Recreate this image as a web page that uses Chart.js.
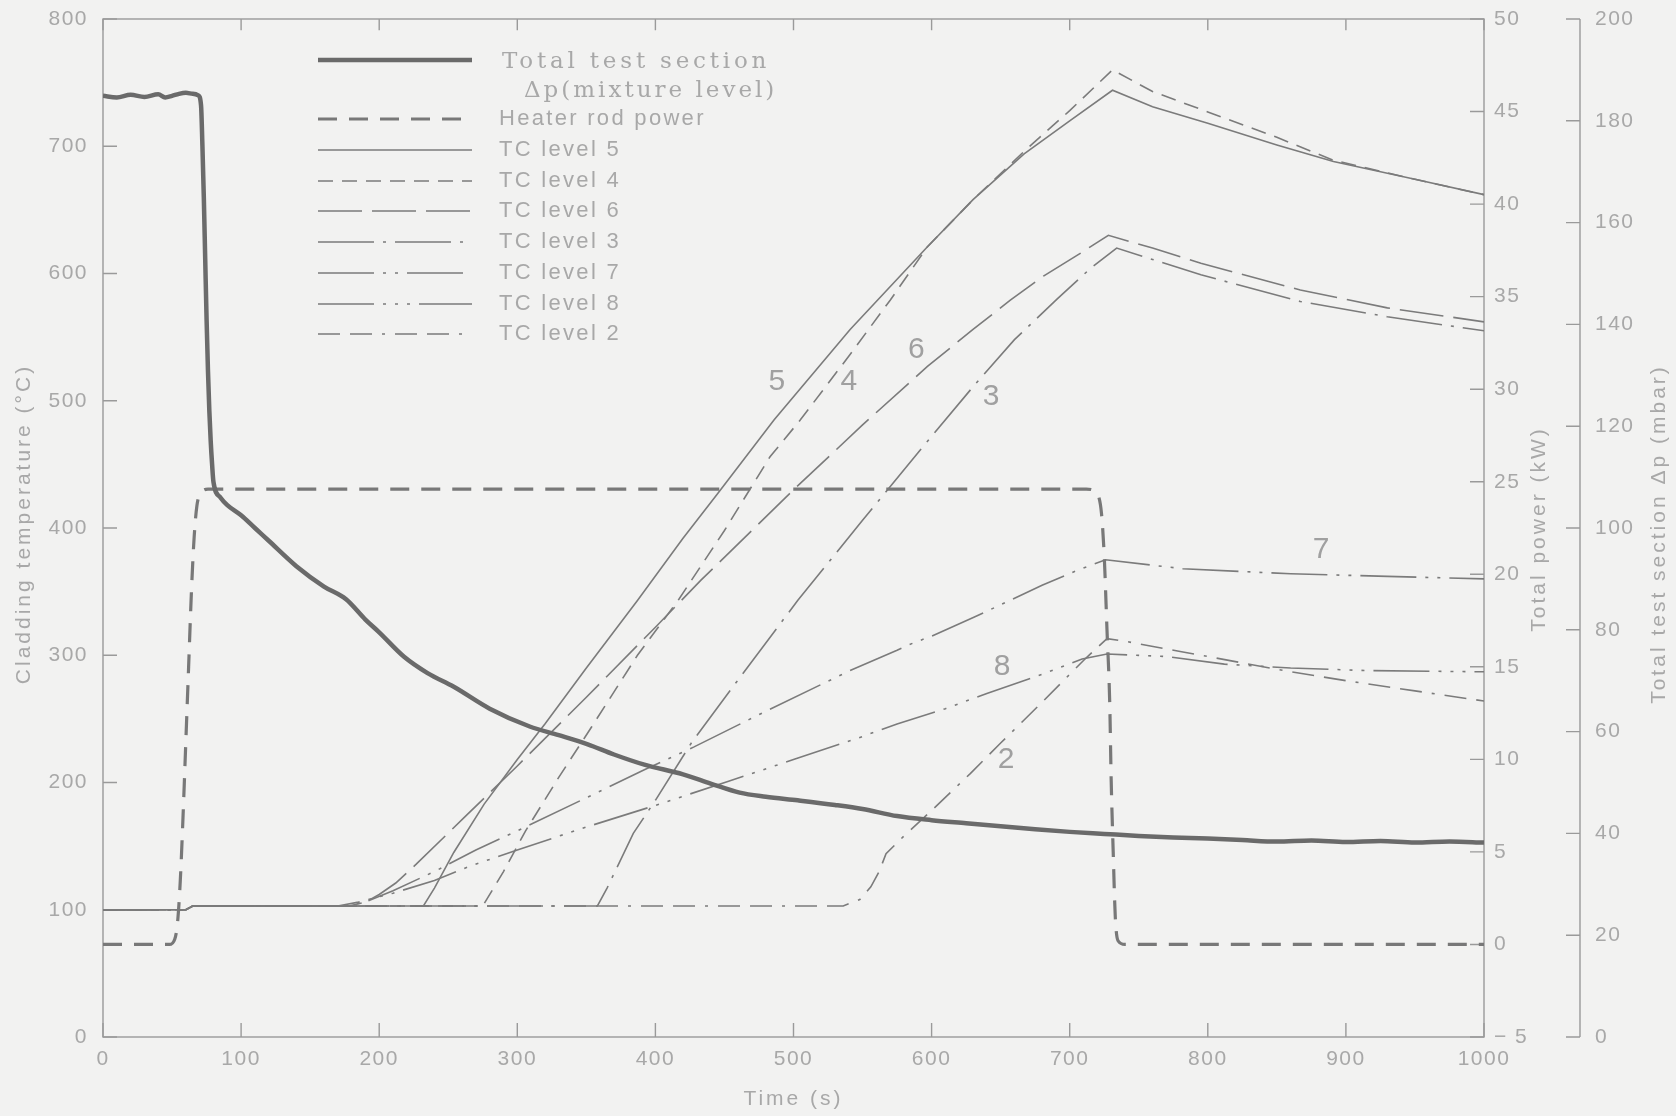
<!DOCTYPE html>
<html>
<head>
<meta charset="utf-8">
<title>Cladding temperature, heater power and test section Δp</title>
<script src="https://cdn.jsdelivr.net/npm/chart.js@4.4.1/dist/chart.umd.min.js"></script>
<style>
  html, body { margin: 0; padding: 0; background: #f2f2f1; }
  #wrap { width: 1676px; height: 1116px; position: relative; }
</style>
</head>
<body>
<div id="wrap"><canvas id="chart"></canvas></div>
<script>
// ── Data: time in s, temperatures in °C, power in kW, Δp in mbar ──
const dpTime  = [0, 10, 20, 30, 40, 45, 50, 55, 60, 65, 69, 71, 72, 73, 74, 75, 76, 77, 78, 79, 80, 85, 90, 100,
                 110, 120, 140, 160, 176, 190, 200, 218, 235, 254, 280, 309, 330, 351, 370, 392, 420, 440, 461, 480,
                 503, 530, 550, 575, 600, 625, 650, 675, 700, 725, 750, 775, 800, 825, 850, 875, 900, 925, 950, 975, 1000];
const dpLevel = [184.9, 184.6, 185.1, 184.7, 185.2, 184.6, 184.9, 185.3, 185.5, 185.3, 185, 183, 175, 165, 153, 141, 131, 123, 117, 112.5, 109, 106, 104.5, 102.5,
                 100, 97.5, 92.5, 88.5, 86, 82, 79.5, 74.7, 71.5, 68.8, 64.5, 61, 59.3, 57.5, 55.5, 53.5, 51.6, 49.8, 48, 47.2,
                 46.5, 45.6, 44.8, 43.4, 42.6, 42, 41.4, 40.8, 40.3, 39.9, 39.5, 39.2, 39, 38.7, 38.4, 38.6, 38.3, 38.5, 38.2, 38.4, 38.2];

const heaterTime  = [0, 48, 52, 54, 56, 58, 60, 62, 64, 66, 68, 71, 76, 712, 718, 721, 723, 725, 727, 729, 730, 731.5, 733, 735, 740, 1000];
const heaterPower = [0, 0, 0.3, 1.2, 3.5, 7, 11, 15, 19, 22, 23.7, 24.4, 24.6, 24.6, 24.5, 24.2, 23.3, 21, 17, 13, 9, 5, 1.5, 0.2, 0, 0];

const tc5Time = [0, 60, 65, 232, 240, 254, 276, 300, 320, 350, 387, 420, 445, 486, 541, 597, 630, 667, 700, 731, 760, 800, 850, 891, 950, 1000];
const tc5Temp = [100, 100, 103, 103, 117, 145, 183, 218, 246, 290, 343, 392, 427, 485, 556, 621, 658, 694, 720, 744, 731, 718, 701, 688, 674, 662];

const tc4Time = [0, 60, 65, 275, 290, 306, 330, 354, 387, 417, 450, 483, 505, 540, 570, 597, 630, 667, 700, 731, 760, 800, 850, 891, 950, 1000];
const tc4Temp = [100, 100, 103, 103, 130, 162, 204, 244, 300, 344, 398, 456, 485, 535, 579, 621, 658, 696, 728, 760, 743, 727, 707, 689, 674, 662];

const tc6Time = [0, 60, 65, 178, 190, 200, 212, 227, 262, 300, 350, 400, 433, 500, 550, 597, 630, 657, 681, 705, 728, 760, 795, 867, 930, 1000];
const tc6Temp = [100, 100, 103, 103, 106, 112, 121, 136, 173, 213, 267, 322, 359, 430, 481, 527, 556, 579, 598, 614, 630, 620, 608, 587, 573, 562];

const tc3Time = [0, 60, 65, 358, 365, 384, 400, 426, 456, 503, 550, 590, 630, 660, 691, 715, 734, 760, 795, 867, 930, 1000];
const tc3Temp = [100, 100, 103, 103, 117, 160, 186, 231, 275, 343, 406, 459, 511, 548, 580, 604, 620, 611, 599, 578, 566, 555];

const tc7Time = [0, 60, 65, 175, 190, 210, 240, 270, 300, 350, 392, 428, 480, 541, 575, 583, 590, 600, 631, 680, 706, 726, 782, 860, 930, 1000];
const tc7Temp = [100, 100, 103, 103, 106, 115, 130, 147, 162, 188, 210, 228, 256, 288, 304, 308, 311, 315, 330, 355, 367, 375, 368, 364, 362, 360];

const tc8Time = [0, 60, 65, 170, 185, 210, 240, 265, 300, 350, 400, 453, 500, 547, 575, 610, 640, 680, 709, 727, 770, 812, 860, 914, 1000];
const tc8Temp = [100, 100, 103, 103, 106, 113, 123, 134, 147, 165, 182, 201, 218, 235, 246, 258, 270, 285, 297, 301, 299, 293, 290, 288, 287];

const tc2Time = [0, 60, 65, 536, 548, 556, 562, 567, 580, 600, 628, 650, 679, 700, 712, 727, 740, 780, 820, 860, 900, 950, 1000];
const tc2Temp = [100, 100, 103, 103, 108, 118, 130, 144, 158, 178, 207, 231, 262, 285, 298, 313, 311, 303, 295, 287, 280, 272, 264];

// curve numbers written next to the TC traces (time, temperature)
const curveTags = ['5', '4', '6', '3', '7', '8', '2'];
const curveTagTime = [488, 540, 589, 643, 882, 651, 654];
const curveTagTemp = [515, 515, 540, 503, 383, 291, 218];

// ── Style ──
const INK = '#7b7b7b';
const TEXT = '#a8a8a8';
const SANS = '"Liberation Sans", Arial, sans-serif';

function pts(xs, ys) { return xs.map((x, i) => ({ x: x, y: ys[i] })); }

function tcSet(label, xs, ys, dash) {
  return {
    label: label, data: pts(xs, ys), yAxisID: 'y',
    borderColor: INK, borderWidth: 1.6, borderDash: dash,
    pointRadius: 0, tension: 0, fill: false
  };
}

const datasets = [
  {
    label: 'Total test section Δp(mixture level)', data: pts(dpTime, dpLevel), yAxisID: 'yD',
    borderColor: '#6a6a6a', borderWidth: 4.5, pointRadius: 0,
    cubicInterpolationMode: 'monotone', fill: false
  },
  {
    label: 'Heater rod power', data: pts(heaterTime, heaterPower), yAxisID: 'yP',
    borderColor: '#787878', borderWidth: 3.2, borderDash: [19, 12], pointRadius: 0,
    cubicInterpolationMode: 'monotone', fill: false
  },
  tcSet('TC level 5', tc5Time, tc5Temp, []),
  tcSet('TC level 4', tc4Time, tc4Temp, [15, 9]),
  tcSet('TC level 6', tc6Time, tc6Temp, [44, 10]),
  tcSet('TC level 3', tc3Time, tc3Temp, [56, 9, 3, 9]),
  tcSet('TC level 7', tc7Time, tc7Temp, [56, 9, 3, 9, 3, 9]),
  tcSet('TC level 8', tc8Time, tc8Temp, [56, 9, 3, 9, 3, 9, 3, 9]),
  tcSet('TC level 2', tc2Time, tc2Temp, [22, 10, 22, 10, 3, 10])
];

// ── Legend rows (dataset index, row centre y) ──
const legendRows = [
  { ds: 0, y: 60 }, { ds: 1, y: 119 }, { ds: 2, y: 150 }, { ds: 3, y: 181 },
  { ds: 4, y: 211 }, { ds: 5, y: 242 }, { ds: 6, y: 273 }, { ds: 7, y: 304 }, { ds: 8, y: 334 }
];

function vText(ctx, text, x, y) {
  ctx.save();
  ctx.translate(x, y);
  ctx.rotate(-Math.PI / 2);
  ctx.fillText(text, 0, 0);
  ctx.restore();
}

// vertical axes: fixed width, and no extra room above/below for the end labels
const fitVertical = w => s => { s.width = w; s.paddingTop = 0; s.paddingBottom = 0; };

const decor = {
  id: 'decor',
  beforeDraw(chart) {
    chart.ctx.letterSpacing = '1.5px';
  },
  beforeDatasetsDraw(chart) {
    const { ctx, chartArea: a, scales } = chart;
    const len = 14;
    ctx.save();
    ctx.strokeStyle = '#9a9a9a';
    ctx.lineWidth = 1.4;
    ctx.strokeRect(a.left, a.top, a.right - a.left, a.bottom - a.top);
    ctx.beginPath();
    scales.x.ticks.forEach(t => {
      const px = scales.x.getPixelForValue(t.value);
      ctx.moveTo(px, a.bottom); ctx.lineTo(px, a.bottom - len);
      ctx.moveTo(px, a.top); ctx.lineTo(px, a.top + len * 0.8);
    });
    scales.y.ticks.forEach(t => {
      const py = scales.y.getPixelForValue(t.value);
      ctx.moveTo(a.left, py); ctx.lineTo(a.left + len, py);
    });
    scales.yP.ticks.forEach(t => {
      const py = scales.yP.getPixelForValue(t.value);
      ctx.moveTo(a.right, py); ctx.lineTo(a.right - len, py);
    });
    const d = scales.yD;
    ctx.moveTo(d.left, d.getPixelForValue(d.min));
    ctx.lineTo(d.left, d.getPixelForValue(d.max));
    d.ticks.forEach(t => {
      const py = d.getPixelForValue(t.value);
      ctx.moveTo(d.left, py); ctx.lineTo(d.left - len, py);
    });
    ctx.stroke();
    ctx.restore();
  },
  afterDatasetsDraw(chart) {
    const { ctx, chartArea: a, scales } = chart;
    ctx.save();

    // axis titles
    ctx.fillStyle = TEXT;
    ctx.font = '21px ' + SANS;
    ctx.letterSpacing = '3px';
    ctx.textAlign = 'center';
    ctx.textBaseline = 'middle';
    ctx.fillText('Time (s)', (a.left + a.right) / 2, 1099);
    vText(ctx, 'Cladding temperature (°C)', 24, 524);
    vText(ctx, 'Total power (kW)', 1539, 529);
    vText(ctx, 'Total test section Δp (mbar)', 1659, 534);

    // legend
    legendRows.forEach(row => {
      const ds = chart.data.datasets[row.ds];
      ctx.save();
      ctx.strokeStyle = ds.borderColor;
      ctx.lineWidth = ds.borderWidth;
      ctx.setLineDash(ds.borderDash || []);
      ctx.beginPath();
      ctx.moveTo(318, row.y);
      ctx.lineTo(472, row.y);
      ctx.stroke();
      ctx.restore();
    });
    ctx.textAlign = 'left';
    ctx.fillStyle = TEXT;
    ctx.font = '23px "DejaVu Serif", serif';
    ctx.letterSpacing = '3.8px';
    ctx.fillText('Total test section', 502, 62);
    ctx.letterSpacing = '3px';
    ctx.fillText('Δp(mixture level)', 524, 91);
    ctx.font = '22px ' + SANS;
    ctx.letterSpacing = '2.3px';
    legendRows.slice(1).forEach(row => {
      ctx.fillText(chart.data.datasets[row.ds].label, 499, row.y);
    });

    // curve numbers
    ctx.font = '30px ' + SANS;
    ctx.letterSpacing = '0px';
    ctx.textAlign = 'center';
    ctx.fillStyle = '#a0a0a0';
    curveTags.forEach((tag, i) => {
      ctx.fillText(tag, scales.x.getPixelForValue(curveTagTime[i]), scales.y.getPixelForValue(curveTagTemp[i]));
    });
    ctx.restore();
  }
};

const tickFont = { family: SANS, size: 21 };

new Chart(document.getElementById('chart'), {
  type: 'line',
  data: { datasets: datasets },
  plugins: [decor],
  options: {
    responsive: true,
    maintainAspectRatio: false,
    animation: false,
    events: [],
    layout: { padding: { top: 19, left: 0, right: 0, bottom: 0 } },
    plugins: { legend: { display: false }, tooltip: { enabled: false } },
    scales: {
      x: {
        type: 'linear', position: 'bottom', min: 0, max: 1000,
        grid: { display: false, drawTicks: false }, border: { display: false },
        ticks: { stepSize: 100, autoSkip: false, maxRotation: 0, color: TEXT, font: tickFont, padding: 10,
                 callback: v => String(v) },
        afterFit: s => { s.height = 79; }
      },
      y: {
        position: 'left', min: 0, max: 800,
        grid: { display: false, drawTicks: false }, border: { display: false },
        ticks: { stepSize: 100, color: TEXT, font: tickFont, padding: 15 },
        afterFit: fitVertical(103)
      },
      yP: {
        position: 'right', weight: 0, min: -5, max: 50,
        grid: { display: false, drawTicks: false }, border: { display: false },
        ticks: { stepSize: 5, color: TEXT, font: tickFont, padding: 10,
                 callback: v => v < 0 ? '− ' + Math.abs(v) : String(v) },
        afterFit: fitVertical(96)
      },
      yD: {
        position: 'right', weight: 1, min: 0, max: 200,
        grid: { display: false, drawTicks: false }, border: { display: false },
        ticks: { stepSize: 20, color: TEXT, font: tickFont, padding: 15 },
        afterFit: fitVertical(96)
      }
    }
  }
});
</script>
</body>
</html>
